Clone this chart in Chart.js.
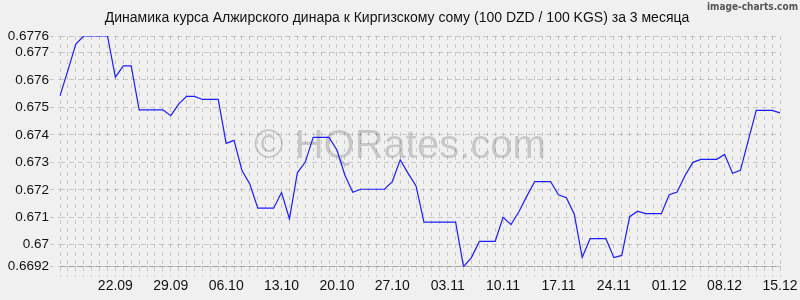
<!DOCTYPE html>
<html lang="ru">
<head>
    <meta charset="UTF-8">
    <title>DZD / KGS</title>
    <style>
        body {
            margin: 0;
            padding: 0;
            background-color: #f0f0f0;
        }
        #rateChart {
            display: block;
        }
    </style>
</head>
<body>
    <canvas id="rateChart" width="800" height="300"></canvas>
    <script src="https://cdn.jsdelivr.net/npm/chart.js"></script>
    <script>
        const titleText = 'Динамика курса Алжирского динара к Киргизскому сому (100 DZD / 100 KGS) за 3 месяца';

        const dates = [
            '15.09', '16.09', '17.09', '18.09', '19.09', '20.09', '21.09', '22.09', '23.09', '24.09',
            '25.09', '26.09', '27.09', '28.09', '29.09', '30.09',
            '01.10', '02.10', '03.10', '04.10', '05.10', '06.10', '07.10', '08.10', '09.10', '10.10',
            '11.10', '12.10', '13.10', '14.10', '15.10', '16.10', '17.10', '18.10', '19.10', '20.10',
            '21.10', '22.10', '23.10', '24.10', '25.10', '26.10', '27.10', '28.10', '29.10', '30.10', '31.10',
            '01.11', '02.11', '03.11', '04.11', '05.11', '06.11', '07.11', '08.11', '09.11', '10.11',
            '11.11', '12.11', '13.11', '14.11', '15.11', '16.11', '17.11', '18.11', '19.11', '20.11',
            '21.11', '22.11', '23.11', '24.11', '25.11', '26.11', '27.11', '28.11', '29.11', '30.11',
            '01.12', '02.12', '03.12', '04.12', '05.12', '06.12', '07.12', '08.12', '09.12', '10.12',
            '11.12', '12.12', '13.12', '14.12', '15.12'
        ];

        const rates = [
            0.67542, 0.67635, 0.67731, 0.6776, 0.6776, 0.6776, 0.6776, 0.6761, 0.67651, 0.67651,
            0.67491, 0.67491, 0.67491, 0.67491, 0.6747, 0.67512, 0.6754, 0.6754, 0.67529, 0.67529,
            0.67529, 0.67369, 0.6738, 0.6727, 0.6722, 0.67133, 0.67133, 0.67133, 0.6719, 0.67094,
            0.67262, 0.67301, 0.67391, 0.67391, 0.67391, 0.67345, 0.67254, 0.67191, 0.67202, 0.67202,
            0.67202, 0.67202, 0.6723, 0.67309, 0.6726, 0.67214, 0.67082, 0.67082, 0.67082, 0.67082,
            0.67082, 0.6692, 0.66953, 0.67012, 0.67012, 0.67012, 0.671, 0.67073, 0.6712, 0.67177,
            0.6723, 0.6723, 0.6723, 0.67182, 0.67171, 0.67111, 0.66954, 0.67022, 0.67022, 0.67022,
            0.66953, 0.66961, 0.67102, 0.67122, 0.67113, 0.67113, 0.67113, 0.67182, 0.67192, 0.67252,
            0.673, 0.67311, 0.67311, 0.67311, 0.67329, 0.6726, 0.67271, 0.67381, 0.67489, 0.67489,
            0.67489, 0.6748
        ];

        const xTickLabels = ['22.09', '29.09', '06.10', '13.10', '20.10', '27.10', '03.11',
            '10.11', '17.11', '24.11', '01.12', '08.12', '15.12'];

        const yTicks = [0.6692, 0.67, 0.671, 0.672, 0.673, 0.674, 0.675, 0.676, 0.677, 0.6776];

        const gridColor = 'rgba(0, 0, 0, 0.16)';
        const fontFamily = '"Liberation Sans", Arial, sans-serif';

        // title, watermark and the small credit in the corner
        const decorations = {
            id: 'decorations',
            beforeDatasetsDraw(chart) {
                const ctx = chart.ctx;
                ctx.save();
                ctx.font = '40px ' + fontFamily;
                ctx.fillStyle = 'rgba(0, 0, 0, 0.17)';
                ctx.textAlign = 'center';
                ctx.textBaseline = 'middle';
                ctx.fillText('© HQRates.com', 400, 147);
                ctx.restore();
            },
            afterDraw(chart) {
                const ctx = chart.ctx;
                ctx.save();
                ctx.font = '14px ' + fontFamily;
                ctx.fillStyle = '#111';
                ctx.textAlign = 'center';
                ctx.textBaseline = 'middle';
                ctx.fillText(titleText, 397, 18);

                ctx.font = 'bold 10px "DejaVu Sans Condensed", "DejaVu Sans", sans-serif';
                ctx.fillStyle = '#555';
                ctx.textAlign = 'right';
                ctx.textBaseline = 'top';
                ctx.fillText('image-charts.com', 798, 2);
                ctx.restore();
            }
        };

        new Chart(document.getElementById('rateChart'), {
            type: 'line',
            data: {
                labels: dates,
                datasets: [{
                    data: rates,
                    borderColor: '#1c1cff',
                    borderWidth: 1.2,
                    pointRadius: 0,
                    tension: 0,
                    fill: false
                }]
            },
            options: {
                responsive: false,
                animation: false,
                layout: { padding: { top: 36, right: 20, left: 0, bottom: 0 } },
                plugins: {
                    legend: { display: false },
                    tooltip: { enabled: false },
                    title: { display: false }
                },
                scales: {
                    x: {
                        afterFit(scale) { scale.height = 33.3; },
                        grid: {
                            color: gridColor,
                            tickColor: gridColor,
                            tickLength: 10,
                            tickBorderDash: [4, 4]
                        },
                        border: { display: true, color: 'rgba(0, 0, 0, 0.2)', dash: [4, 4] },
                        ticks: {
                            autoSkip: false,
                            maxRotation: 0,
                            padding: 1,
                            color: '#111',
                            font: { family: fontFamily, size: 14 },
                            callback(value, index) {
                                const d = dates[index];
                                return xTickLabels.includes(d) ? d : '';
                            }
                        }
                    },
                    y: {
                        min: 0.6692,
                        max: 0.6776,
                        afterFit(scale) { scale.width = 60; },
                        afterBuildTicks(scale) {
                            scale.ticks = yTicks.map(v => ({ value: v }));
                        },
                        grid: {
                            color: gridColor,
                            tickColor: gridColor,
                            tickLength: 10,
                            tickBorderDash: [4, 4]
                        },
                        border: { display: false, dash: [5, 4] },
                        ticks: {
                            padding: 1,
                            color: '#111',
                            font: { family: fontFamily, size: 13.5 },
                            callback(value) { return String(value); }
                        }
                    }
                }
            },
            plugins: [decorations]
        });
    </script>
</body>
</html>
